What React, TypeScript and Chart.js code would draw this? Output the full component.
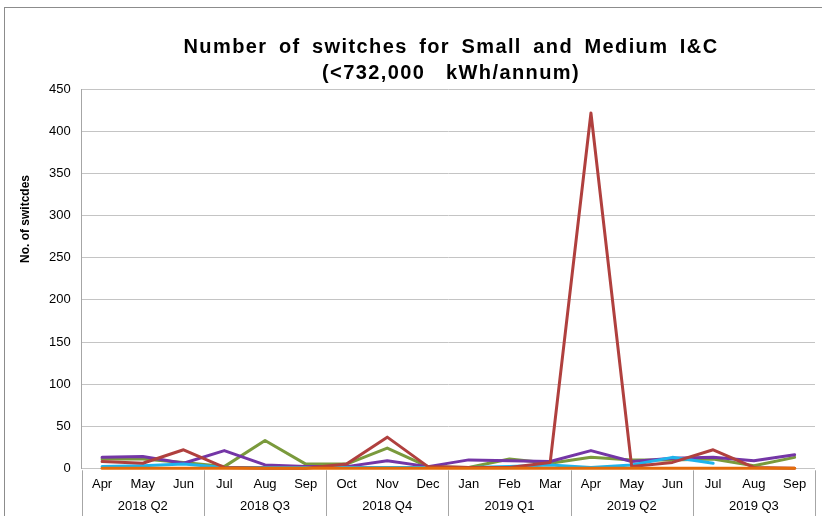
import React, { useEffect, useRef } from "react";
import { Chart, registerables } from "chart.js";

Chart.register(...registerables);

const months = ["Apr", "May", "Jun", "Jul", "Aug", "Sep", "Oct", "Nov", "Dec", "Jan", "Feb", "Mar", "Apr", "May", "Jun", "Jul", "Aug", "Sep"];
const quarters = ["2018 Q2", "2018 Q3", "2018 Q4", "2019 Q1", "2019 Q2", "2019 Q3"];
const redSeries = [8, 6, 22, 1, 0, 0, 5, 37, 2, 1, 1, 7, 422, 2, 7, 22, 1, 0];
const greenSeries = [11, 11, 7, 2, 33, 5, 5, 24, 2, 1, 11, 6, 13, 10, 10, 11, 3, 13];
const purpleSeries = [13, 14, 6, 21, 4, 2, 2, 9, 2, 10, 9, 8, 21, 8, 12, 13, 9, 16];
const cyanSeries: (number | null)[] = [2, 3, 5, 1, 1, 1, 1, 1, 1, 1, 2, 4, 1, 4, 13, 6, null, null];
const orangeSeries = [0, 0, 0, 0, 0, 0, 0, 0, 0, 0, 0, 0, 0, 0, 0, 0, 0, 0];
const yTicks = [0, 50, 100, 150, 200, 250, 300, 350, 400, 450];
const titleLines = ["Number of switches for Small and Medium I&C", "(<732,000 kWh/annum)"];
const yTitle = "No. of switcdes";

const FONT = "'Liberation Sans', Arial, sans-serif";

const decorPlugin = {
  id: "decor",
  afterDraw(chart: any) {
    const ctx = chart.ctx as CanvasRenderingContext2D;
    const area = chart.chartArea;
    const x = chart.scales.x;
    ctx.save();
    // title
    ctx.fillStyle = "#000";
    ctx.textAlign = "left";
    ctx.textBaseline = "alphabetic";
    ctx.font = `bold 20px ${FONT}`;
    const targets = [535, 258];
    const baselines = [44.5, 70.5];
    const cx = 446;
    titleLines.forEach((t, i) => {
      const c = ctx as any;
      c.letterSpacing = "1.4px";
      c.wordSpacing = "0px";
      const w = ctx.measureText(t).width;
      const spaces = t.split(" ").length - 1;
      const ws = Math.max(0, (targets[i] - w) / spaces);
      c.wordSpacing = `${ws}px`;
      const w2 = ctx.measureText(t).width;
      ctx.fillText(t, cx - w2 / 2, baselines[i]);
      c.letterSpacing = "0px";
      c.wordSpacing = "0px";
    });
    // y title
    ctx.save();
    ctx.translate(21, 211);
    ctx.rotate(-Math.PI / 2);
    ctx.font = `bold 12px ${FONT}`;
    ctx.textAlign = "center";
    ctx.textBaseline = "middle";
    ctx.fillText(yTitle, 0, 0);
    ctx.restore();
    // x separators & quarter labels
    const n = months.length;
    const cw = (area.right - area.left) / n;
    ctx.strokeStyle = "#a6a6a6";
    ctx.lineWidth = 1;
    for (let k = 0; k <= quarters.length; k++) {
      const px = Math.round(area.left + k * 3 * cw) + 0.5;
      ctx.beginPath();
      ctx.moveTo(px, area.bottom + 2);
      ctx.lineTo(px, chart.height);
      ctx.stroke();
    }
    ctx.font = `13px ${FONT}`;
    ctx.textAlign = "center";
    ctx.textBaseline = "middle";
    ctx.fillStyle = "#000";
    quarters.forEach((q, k) => {
      const mid = x.getPixelForValue(k * 3 + 1);
      ctx.fillText(q, mid, 498);
    });
    ctx.restore();
  },
};

export default function App() {
  const ref = useRef<HTMLCanvasElement>(null);
  useEffect(() => {
    if (!ref.current) return;
    const mk = (label: string, data: (number | null)[], color: string) => ({
      label,
      data,
      borderColor: color,
      backgroundColor: color,
      borderWidth: 3,
      borderJoinStyle: "round" as const,
      borderCapStyle: "round" as const,
      pointRadius: 0,
      tension: 0,
      fill: false,
      clip: false as const,
    });
    const chart = new Chart(ref.current, {
      type: "line",
      data: {
        labels: months,
        datasets: [
          mk("Orange", orangeSeries, "#E46C0A"),
          mk("Red", redSeries, "#B0403E"),
          mk("Cyan", cyanSeries, "#1EB4EC"),
          mk("Purple", purpleSeries, "#7436A6"),
          mk("Green", greenSeries, "#7A9A3C"),
        ],
      },
      options: {
        responsive: false,
        animation: false,
        layout: { padding: { left: 0, right: 20, top: 81.4, bottom: 0 } },
        plugins: { legend: { display: false }, title: { display: false }, tooltip: { enabled: false } },
        scales: {
          x: {
            type: "category",
            offset: true,
            grid: { display: false, drawTicks: false },
            border: { display: false },
            ticks: { color: "#000", font: { family: FONT, size: 13 }, padding: 8, maxRotation: 0, autoSkip: false },
            afterFit: (s: any) => { s.height = 54.7; },
          },
          y: {
            min: 0,
            max: 450,
            afterBuildTicks: (s: any) => { s.ticks = yTicks.map((v) => ({ value: v })); },
            grid: { color: "#c4c4c4", lineWidth: 1, drawTicks: false },
            border: { display: true, color: "#a6a6a6" },
            ticks: { color: "#000", font: { family: FONT, size: 13 }, padding: 11 },
            afterFit: (s: any) => { s.width = 76.7; },
          },
        },
      },
      plugins: [decorPlugin],
    });
    return () => chart.destroy();
  }, []);
  return (
    <div style={{ position: "absolute", left: 4, top: 7, width: 840, height: 530, border: "1px solid #8c8c8c", background: "#fff" }}>
      <canvas ref={ref} width={830} height={515} style={{ display: "block", width: 830, height: 515 }} />
    </div>
  );
}
